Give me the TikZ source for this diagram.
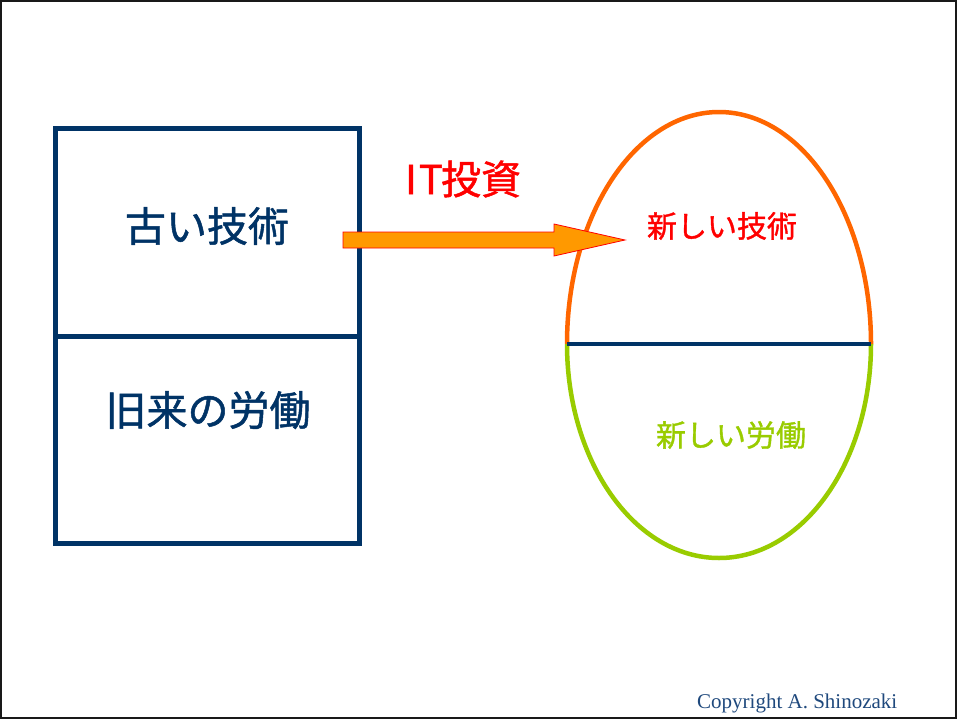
\documentclass[tikz,border=0pt]{standalone}
\usepackage{fontspec}
\setmainfont{Liberation Serif}
\newfontfamily\jpfont[FakeBold=1.2]{Noto Sans CJK JP}
\definecolor{navy}{RGB}{0,51,102}
\definecolor{orangeline}{RGB}{255,102,0}
\definecolor{greenline}{RGB}{153,204,0}
\definecolor{arrowfill}{RGB}{255,153,0}
\definecolor{copyblue}{RGB}{31,73,125}
\begin{document}
\begin{tikzpicture}[x=1pt,y=-1pt,
  boxline/.style={draw=navy,line width=5pt},
  jptext/.style={font=\jpfont\fontsize{#1}{#1}\selectfont,inner sep=0pt,anchor=center},
]
\useasboundingbox (0,0) rectangle (958,720);
\fill[white] (0,0) rectangle (958,720);
\draw[line width=2pt,black!90] (1,1) rectangle (956,718);

% left box
\draw[boxline] (55.5,128) rectangle (359.5,543);
\draw[boxline] (55.5,336) -- (359.5,336);
\node[jptext=41,text=navy] (old) at (207,226) {古い技術};
\node[jptext=41,text=navy] (labor) at (208,410) {旧来の労働};

% ellipse
\coordinate (eL) at (567,344);
\coordinate (eR) at (871,344);
\draw[orangeline,line width=4.5pt] (eL) arc[start angle=180,end angle=360,x radius=152,y radius=232];
\draw[greenline,line width=4.5pt] (eL) arc[start angle=180,end angle=0,x radius=152,y radius=214];
\draw[navy,line width=4.5pt] (eL) -- (eR);
\node[jptext=30,text=red] (newtech) at (722,226) {新しい技術};
\node[jptext=30,text=greenline] (newlabor) at (731,435) {新しい労働};

% arrow
\node[jptext=40,text=red] (it) at (461,179) {\makebox[0.5em]{I}\makebox[0.5em]{T}投資};
\draw[draw=red,fill=arrowfill,line width=0.8pt]
  (343,232) -- (554,232) -- (554,224) -- (625,240) -- (554,256) -- (554,248) -- (343,248) -- cycle;

% copyright
\node[anchor=base west,inner sep=0pt,text=copyblue,font=\fontsize{21}{21}\selectfont] (copy) at (697,708) {Copyright A. Shinozaki};
\end{tikzpicture}
\end{document}
